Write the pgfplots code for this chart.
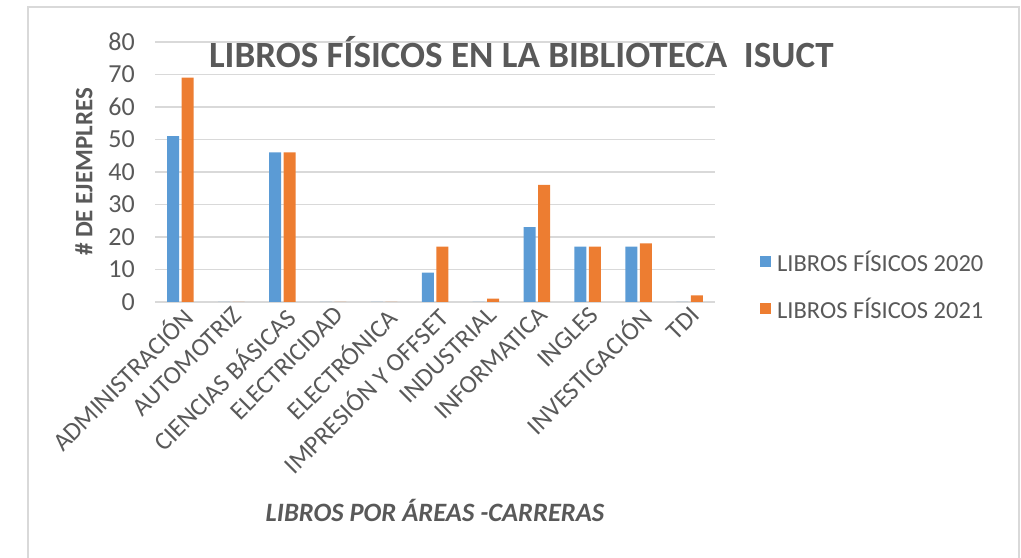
\documentclass[border=0pt]{standalone}
\usepackage{pgfplots}
\pgfplotsset{compat=1.18}
\usepackage{fontspec}
\setmainfont{Carlito}
\definecolor{serA}{HTML}{5B9BD5}
\definecolor{serB}{HTML}{ED7D31}
\definecolor{txt}{HTML}{595959}
\definecolor{gridc}{HTML}{D9D9D9}

\pgfplotstableread{
x v2020 v2021
0 51 69
1 0 0
2 46 46
3 0 0
4 0 0
5 9 17
6 0 1
7 23 36
8 17 17
9 17 18
10 0 2
}\libros

\begin{document}
\begin{tikzpicture}[x=1bp,y=1bp]
% page frame
\path[use as bounding box] (0,0) rectangle (1021,558);
\draw[gridc,line width=1.5bp] (28,0) -- (28,551) -- (1019,551) -- (1019,0);
\begin{axis}[
    at={(155bp,256bp)},
    anchor=south west,
    scale only axis,
    width=560bp,
    height=260bp,
    ybar=2.5bp,
    bar width=12bp,
    xmin=-0.5, xmax=10.5,
    ymin=0, ymax=80,
    ytick={0,10,...,80},
    xtick=data,
    xticklabels={ADMINISTRACIÓN,AUTOMOTRIZ,CIENCIAS BÁSICAS,ELECTRICIDAD,ELECTRÓNICA,IMPRESIÓN Y OFFSET,INDUSTRIAL,INFORMATICA,INGLES,INVESTIGACIÓN,TDI},
    x tick label style={rotate=45,anchor=north east,font=\fontsize{25.5bp}{28bp}\selectfont,text=txt,inner sep=2bp},
    y tick label style={font=\fontsize{26bp}{28bp}\selectfont,text=txt,inner sep=4bp,xshift=-16bp},
    /pgf/number format/assume math mode=true,
    major tick length=0pt,
    ymajorgrids=true,
    grid style={gridc,line width=1.2bp},
    axis line style={draw=none},
    axis x line*=bottom,
    axis y line*=left,
    x axis line style={draw=gridc,line width=1.2bp},
    title={LIBROS FÍSICOS EN LA BIBLIOTECA\ \ ISUCT},
    title style={at={(axis description cs:0.654,0.938)},anchor=center,font=\bfseries\fontsize{37bp}{39bp}\selectfont,text=txt},
    ylabel={\# DE EJEMPLRES},
    ylabel style={at={(axis description cs:-0.127,0.5)},anchor=center,font=\bfseries\fontsize{25bp}{27bp}\selectfont,text=txt},
    xlabel={LIBROS POR ÁREAS -CARRERAS},
    xlabel style={at={(axis description cs:0.5,-0.80)},anchor=center,font=\bfseries\itshape\fontsize{26.5bp}{28bp}\selectfont,text=txt},
    legend style={at={(axis description cs:1.075,0.065)},anchor=west,draw=none,fill=none,
        font=\fontsize{24.5bp}{26bp}\selectfont,text=txt,row sep=21bp},
    legend cell align=left,
    legend image code/.code={\fill[#1] (0bp,-5.5bp) rectangle (11bp,5.5bp); \path (15bp,0bp);},
]
\addplot[fill=serA,draw=none] table[x=x,y=v2020]{\libros};
\addlegendentry{LIBROS FÍSICOS 2020}
\addplot[fill=serB,draw=none] table[x=x,y=v2021]{\libros};
\addlegendentry{LIBROS FÍSICOS 2021}
\end{axis}
\end{tikzpicture}
\end{document}
